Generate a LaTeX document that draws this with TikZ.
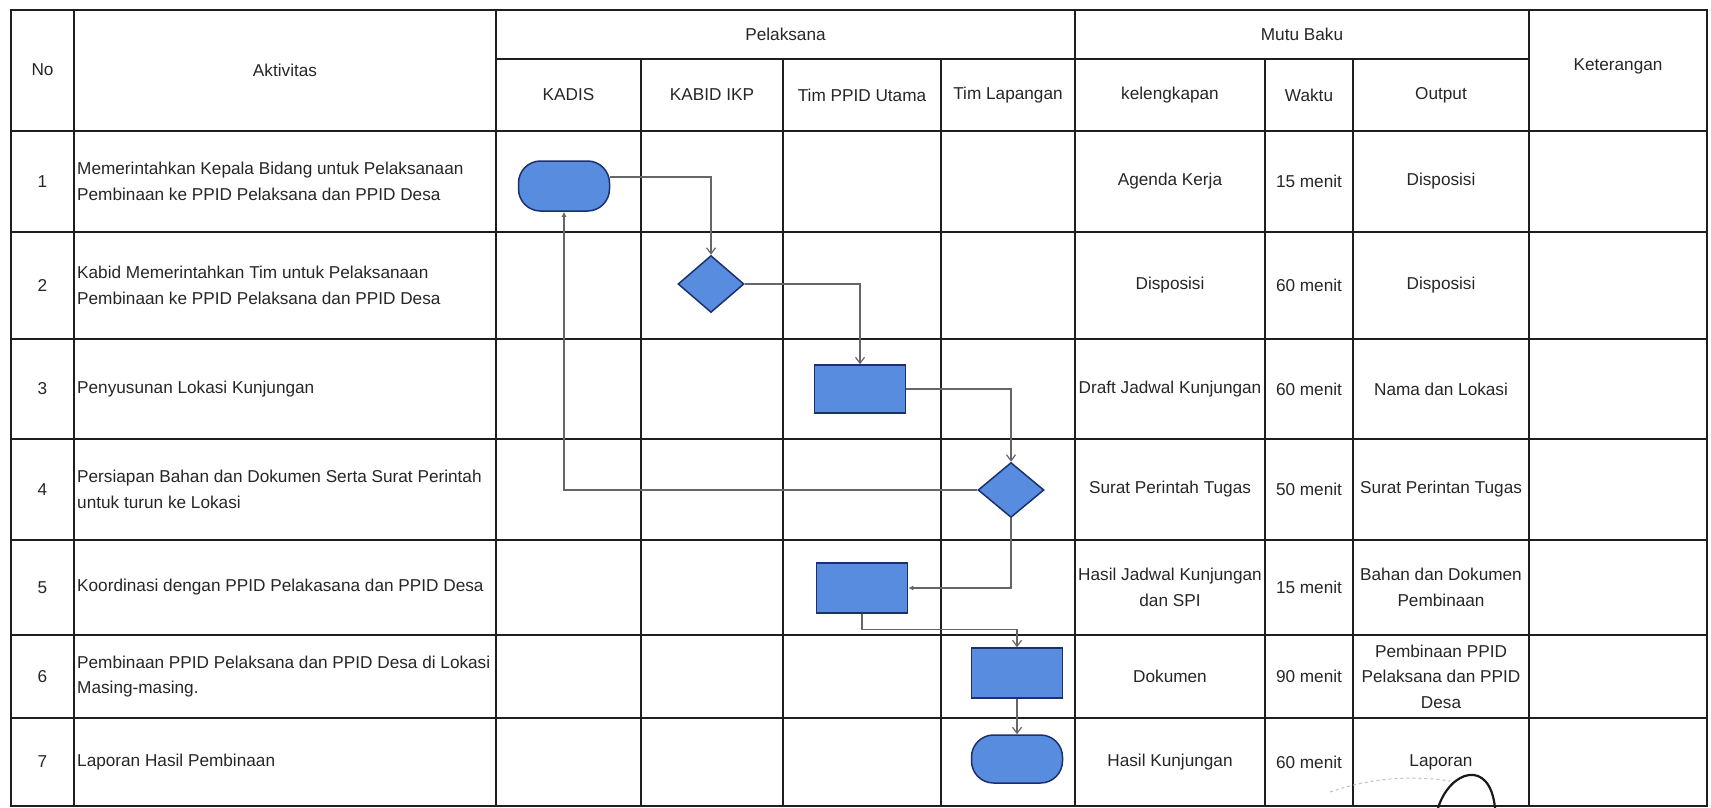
\documentclass[tikz,border=0pt]{standalone}
\usepackage{fontspec}
\setmainfont{Liberation Sans}
\usetikzlibrary{shapes.geometric,arrows.meta}
\definecolor{boxfill}{RGB}{88,140,222}
\definecolor{boxline}{RGB}{28,48,110}
\definecolor{gridline}{RGB}{30,30,30}
\tikzset{
  cellbase/.style={font=\fontsize{17.2}{25.5}\selectfont, text=black!85, inner sep=0pt},
  cell/.style={cellbase, align=center},
  actcell/.style={cellbase, align=left, anchor=west},
  gridrule/.style={draw=gridline, line width=1.7pt, line cap=rect},
  procbox/.style={draw=boxline, fill=boxfill, line width=1.5pt, minimum width=91pt, minimum height=50pt, inner sep=0pt},
  termbox/.style={procbox, rounded corners=22pt},
  decbox/.style={procbox, diamond, minimum width=66pt, minimum height=57pt},
  flowline/.style={draw=black!60, line width=1.2pt, -{Straight Barb[length=6pt,width=9pt]}},
  backline/.style={draw=black!60, line width=1.2pt, -{Latex[length=5pt,width=5pt]}}
}

\begin{document}
\begin{tikzpicture}[x=1pt, y=-1pt]
\useasboundingbox (0,0) rectangle (1711,808);
% grid of the table
\draw[gridrule] (11,10) -- (1707,10);
\draw[gridrule] (496,59) -- (1529,59);
\foreach \y in {131,232,339,439,540,635,718,806}
  \draw[gridrule] (11,\y) -- (1707,\y);
\foreach \x in {11,74,496,1075,1529,1707}
  \draw[gridrule] (\x,10) -- (\x,806);
\foreach \x in {641,783,941,1265,1353}
  \draw[gridrule] (\x,59) -- (\x,806);

% header
\node[cell] (hno) at (42.5,70) {No};
\node[cell] (hakt) at (285,70) {Aktivitas};
\node[cell] (hpel) at (785.5,34.5) {Pelaksana};
\node[cell] (hmutu) at (1302,34.5) {Mutu Baku};
\node[cell] (hket) at (1618,66) {Keterangan};
\node[cell] (hkadis) at (568.5,95) {KADIS};
\node[cell] (hkabid) at (712,95) {KABID IKP};
\node[cell] (hppid) at (862,95) {Tim PPID Utama};
\node[cell] (hlap) at (1008,95) {Tim Lapangan};
\node[cell] (hkel) at (1170,95) {kelengkapan};
\node[cell] (hwkt) at (1309,95) {Waktu};
\node[cell] (hout) at (1441,95) {Output};

% rows
\foreach \i/\yc/\act/\kel/\wkt/\out in {
  1/181.5/{Memerintahkan Kepala Bidang untuk Pelaksanaan\\Pembinaan ke PPID Pelaksana dan PPID Desa}/{Agenda Kerja}/{15 menit}/{Disposisi},
  2/285.5/{Kabid Memerintahkan Tim untuk Pelaksanaan\\Pembinaan ke PPID Pelaksana dan PPID Desa}/{Disposisi}/{60 menit}/{Disposisi},
  3/389/{Penyusunan Lokasi Kunjungan}/{Draft Jadwal Kunjungan}/{60 menit}/{Nama dan Lokasi},
  4/489.5/{Persiapan Bahan dan Dokumen Serta Surat Perintah\\untuk turun ke Lokasi}/{Surat Perintah Tugas}/{50 menit}/{Surat Perintan Tugas},
  5/587.5/{Koordinasi dengan PPID Pelakasana dan PPID Desa}/{Hasil Jadwal Kunjungan\\dan SPI}/{15 menit}/{Bahan dan Dokumen\\Pembinaan},
  6/676.5/{Pembinaan PPID Pelaksana dan PPID Desa di Lokasi\\Masing-masing.}/{Dokumen}/{90 menit}/{Pembinaan PPID\\Pelaksana dan PPID\\Desa},
  7/762/{Laporan Hasil Pembinaan}/{Hasil Kunjungan}/{60 menit}/{Laporan}}{
  \node[cell] (no\i) at (42.5,\yc) {\i};
  \node[actcell] (akt\i) at (77,\yc) {\act};
  \node[cell] (kel\i) at (1170,\yc) {\kel};
  \node[cell] (wkt\i) at (1309,\yc) {\wkt};
  \node[cell] (out\i) at (1441,\yc) {\out};
}

% flow shapes
\node[termbox] (t1) at (564,186) {};
\node[decbox] (d2) at (711,284) {};
\node[procbox, minimum height=48pt] (p3) at (860,389) {};
\node[decbox, minimum height=55pt] (d4) at (1011,490) {};
\node[procbox] (p5) at (862,588) {};
\node[procbox] (p6) at (1017,673) {};
\node[termbox, minimum height=48pt] (t7) at (1017,759) {};

% connectors
\draw[flowline] ([yshift=9pt]t1.east) -| (d2.north);
\draw[flowline] (d2.east) -| (p3.north);
\draw[flowline] (p3.east) -| (d4.north);
\draw[backline] (d4.west) -| (t1.south);
\draw[backline] (d4.south) |- (p5.east);
\draw[flowline] (p5.south) -- ++(0,16) -| (p6.north);
\draw[flowline] (p6.south) -- (t7.north);

% stamp and signature
\draw[black!25, dashed, line width=1pt] (1330,792) .. controls (1370,778) and (1410,775) .. (1450,781);
\draw[black!90, line width=2.2pt] (1438,808) .. controls (1450,770) and (1490,758) .. (1495,808);
\end{tikzpicture}
\end{document}
